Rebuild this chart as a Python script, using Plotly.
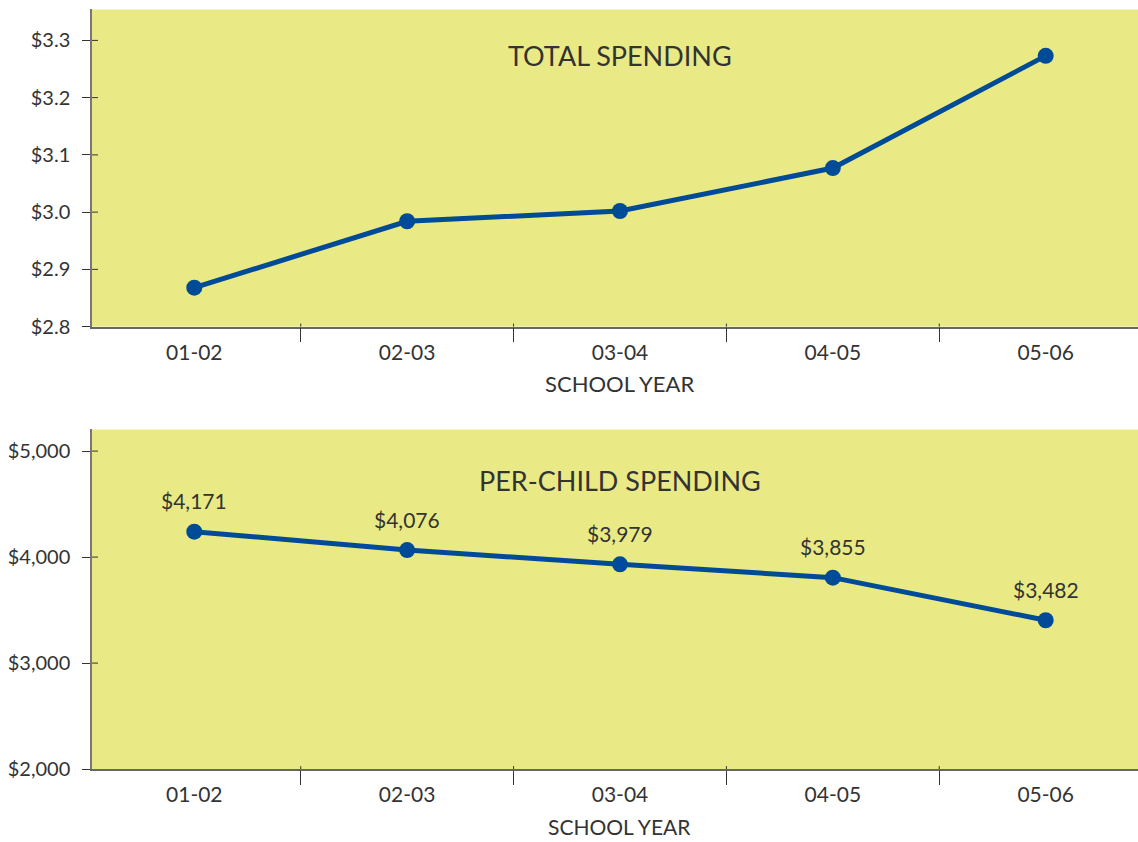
import plotly.graph_objects as go

# ---- data ----
years = ["01-02", "02-03", "03-04", "04-05", "05-06"]
total_spending = [2.868, 2.984, 3.002, 3.077, 3.273]          # $ billions (as drawn)
per_child_plotted = [4240, 4066, 3932, 3806, 3404]             # as drawn
per_child_labels = ["$4,171", "$4,076", "$3,979", "$3,855", "$3,482"]

top_tickvals = [2.8, 2.9, 3.0, 3.1, 3.2, 3.3]
top_ticktext = ["$2.8", "$2.9", "$3.0", "$3.1", "$3.2", "$3.3"]
bot_tickvals = [2000, 3000, 4000, 5000]
bot_ticktext = ["$2,000", "$3,000", "$4,000", "$5,000"]

# ---- style ----
FONT = "Lato"
TXT = "#333333"
BG = "#E9EA85"
BLUE = "#004B97"
W, H = 1138, 842
HE = 832  # effective drawing height used for domain fractions


def fy(px):
    return 1 - px / HE


fig = go.Figure()
fig.add_trace(go.Scatter(x=years, y=total_spending, mode="lines+markers",
                         line=dict(color=BLUE, width=5),
                         marker=dict(color=BLUE, size=16),
                         xaxis="x", yaxis="y", hoverinfo="skip"))
fig.add_trace(go.Scatter(x=years, y=per_child_plotted, mode="lines+markers",
                         line=dict(color=BLUE, width=5),
                         marker=dict(color=BLUE, size=16),
                         xaxis="x2", yaxis="y2", hoverinfo="skip"))

xdom = [92 / W, 1.0]
top_dom = [fy(327), fy(9.5)]
bot_dom = [fy(770), fy(430)]
xrange_ = [-0.4806, 4.4337]

common_x = dict(type="category", range=xrange_, domain=xdom, tickson="boundaries",
                ticks="outside", ticklen=14, tickcolor=TXT, tickwidth=1,
                showline=True, linecolor="#666666", linewidth=1.5,
                showgrid=False, zeroline=False, ticklabelstandoff=6,
                tickfont=dict(family=FONT, size=21, color=TXT), fixedrange=True)
common_y = dict(ticks="outside", ticklen=8, tickcolor=TXT, tickwidth=1,
                showline=True, linecolor="#777777", linewidth=1.5,
                showgrid=False, zeroline=False, ticklabelstandoff=8,
                tickfont=dict(family=FONT, size=20, color=TXT), fixedrange=True)

fig.update_layout(
    width=W, height=H, margin=dict(l=0, r=0, t=0, b=0),
    paper_bgcolor="white", plot_bgcolor=BG, showlegend=False,
    xaxis=dict(common_x, anchor="y"),
    yaxis=dict(common_y, domain=top_dom, anchor="x", range=[2.8, 3.354],
               tickvals=top_tickvals, ticktext=top_ticktext),
    xaxis2=dict(common_x, anchor="y2"),
    yaxis2=dict(common_y, domain=bot_dom, anchor="x2", range=[2000, 5204],
                tickvals=bot_tickvals, ticktext=bot_ticktext),
)

shapes = []
# inner parts of the crossing y ticks
for yref, vals in (("y", top_tickvals), ("y2", bot_tickvals)):
    xr = "x domain" if yref == "y" else "x2 domain"
    for v in vals[1:]:
        shapes.append(dict(type="line", xref=xr, yref=yref, x0=0, x1=6 / 1046,
                           y0=v, y1=v, line=dict(color=TXT, width=1)))
# inner parts of the crossing x ticks (category boundaries)
for xr, yr, frac in (("x", "y domain", 3 / 317.5), ("x2", "y2 domain", 3 / 340)):
    for i in range(len(years) - 1):
        b = i + 0.5
        shapes.append(dict(type="line", xref=xr, yref=yr, x0=b, x1=b,
                           y0=0, y1=frac, line=dict(color=TXT, width=1)))
fig.update_layout(shapes=shapes)

ann = []
ann.append(dict(text="TOTAL SPENDING", xref="x", yref="paper", x=years[2],
                y=fy(55.7), showarrow=False, xanchor="center", yanchor="middle",
                font=dict(family=FONT, size=27, color=TXT)))
ann.append(dict(text="PER-CHILD SPENDING", xref="x2", yref="paper", x=years[2],
                y=fy(481), showarrow=False, xanchor="center", yanchor="middle",
                font=dict(family=FONT, size=27, color=TXT)))
ann.append(dict(text="SCHOOL YEAR", xref="x", yref="paper", x=years[2],
                y=fy(384), showarrow=False, xanchor="center", yanchor="middle",
                font=dict(family=FONT, size=22, color=TXT)))
ann.append(dict(text="SCHOOL YEAR", xref="x2", yref="paper", x=years[2],
                y=fy(827), showarrow=False, xanchor="center", yanchor="middle",
                font=dict(family=FONT, size=21, color=TXT)))
for yr, v, lab in zip(years, per_child_plotted, per_child_labels):
    ann.append(dict(text=lab, xref="x2", yref="y2", x=yr, y=v, yshift=31,
                    showarrow=False, xanchor="center", yanchor="middle",
                    font=dict(family=FONT, size=21, color=TXT)))
fig.update_layout(annotations=ann)

fig.write_html("out.html")
